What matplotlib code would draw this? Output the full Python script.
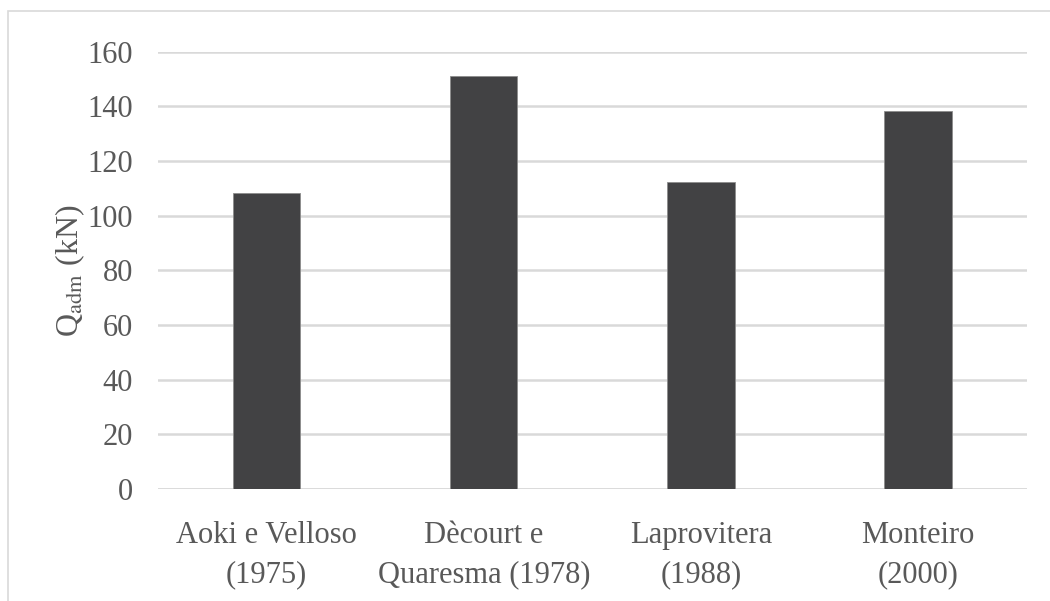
import matplotlib.pyplot as plt
from matplotlib.patches import Rectangle

# data
methods = ['Aoki e Velloso\n(1975)', 'Dècourt e\nQuaresma (1978)',
           'Laprovitera\n(1988)', 'Monteiro\n(2000)']
qadm = [108.4, 151.2, 112.4, 138.3]
yticks = [0, 20, 40, 60, 80, 100, 120, 140, 160]

plt.rcParams['font.family'] = ['Liberation Serif', 'DejaVu Serif']
plt.rcParams['mathtext.fontset'] = 'stix'

txt = '#595959'
fig = plt.figure(figsize=(10.5, 6.01), dpi=100)
# outer chart frame (light gray, cut at right/bottom like the original)
fig.patches.append(Rectangle((8/1050, -0.1), 1.2, 1 - 11/601 + 0.1,
                             transform=fig.transFigure, fill=False,
                             edgecolor='#d9d9d9', lw=1.2))

ax = fig.add_axes([0.1505, 0.1864, 0.8273, 0.7276])
ax.bar(range(len(qadm)), qadm, width=0.31, color='#424244',
       edgecolor='#8c8c8c', linewidth=0.6, zorder=3)
ax.set_xlim(-0.5, 3.5)
ax.set_ylim(0, 160)
ax.set_yticks(yticks)
ax.grid(axis='y', color='#d9d9d9', lw=1.8, zorder=0)
for s in ax.spines.values():
    s.set_visible(False)
ax.axhline(0, color='#d9d9d9', lw=1.8, zorder=1)
ax.tick_params(length=0, labelsize=22, labelcolor=txt)
ax.tick_params(axis='y', pad=18)
ax.tick_params(axis='x', pad=23)
ax.set_xticks(range(len(qadm)))
ax.set_xticklabels(methods, linespacing=1.45)
ax.set_ylabel(r'Q$_{\mathrm{adm}}$ (kN)', fontsize=23, color=txt, labelpad=0)

plt.savefig('out.png', dpi=100)
plt.close()
